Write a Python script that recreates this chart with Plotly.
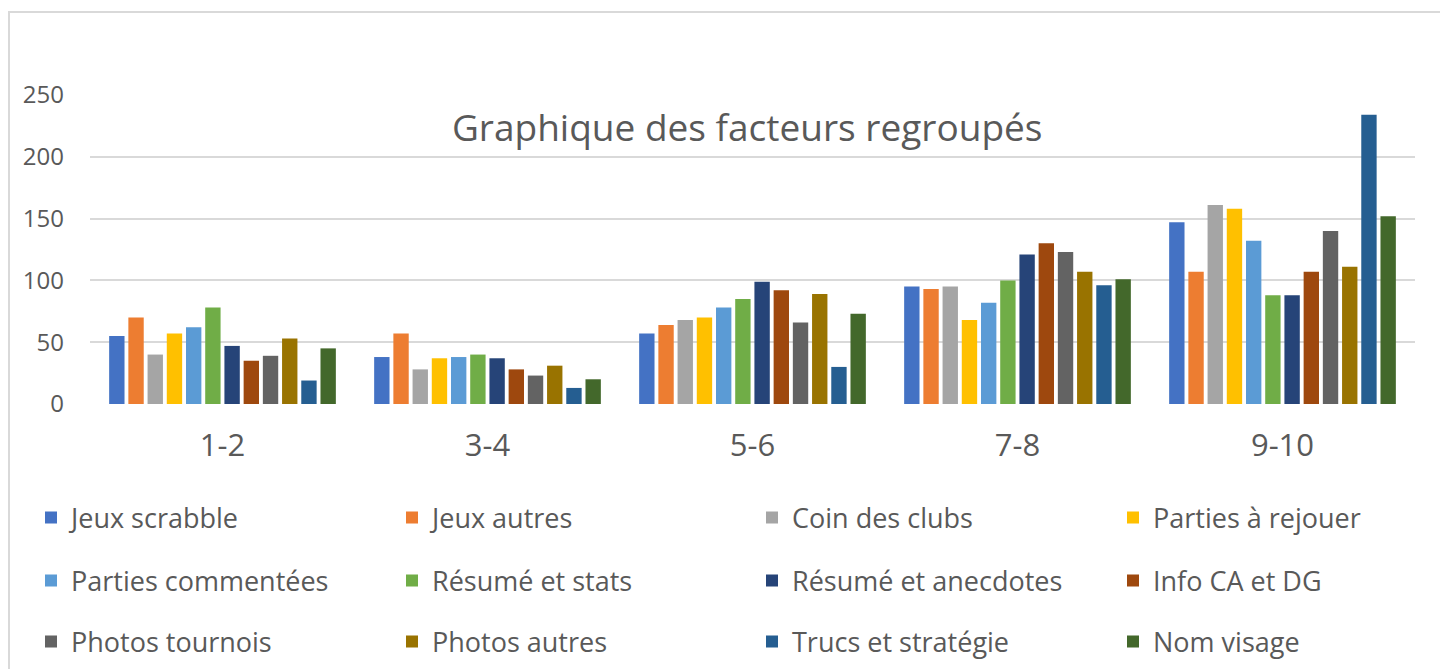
import plotly.graph_objects as go

categories = ["1-2", "3-4", "5-6", "7-8", "9-10"]

series_names = [
    "Jeux scrabble", "Jeux autres", "Coin des clubs", "Parties à rejouer",
    "Parties commentées", "Résumé et stats", "Résumé et anecdotes", "Info CA et DG",
    "Photos tournois", "Photos autres", "Trucs et stratégie", "Nom visage",
]

jeux_scrabble = [55, 38, 57, 95, 147]
jeux_autres = [70, 57, 64, 93, 107]
coin_des_clubs = [40, 28, 68, 95, 161]
parties_a_rejouer = [57, 37, 70, 68, 158]
parties_commentees = [62, 38, 78, 82, 132]
resume_et_stats = [78, 40, 85, 100, 88]
resume_et_anecdotes = [47, 37, 99, 121, 88]
info_ca_et_dg = [35, 28, 92, 130, 107]
photos_tournois = [39, 23, 66, 123, 140]
photos_autres = [53, 31, 89, 107, 111]
trucs_et_strategie = [19, 13, 30, 96, 234]
nom_visage = [45, 20, 73, 101, 152]

series_values = [
    jeux_scrabble, jeux_autres, coin_des_clubs, parties_a_rejouer,
    parties_commentees, resume_et_stats, resume_et_anecdotes, info_ca_et_dg,
    photos_tournois, photos_autres, trucs_et_strategie, nom_visage,
]

colors = [
    "#4472C4", "#ED7D31", "#A5A5A5", "#FFC000",
    "#5B9BD5", "#70AD47", "#264478", "#9E480E",
    "#636363", "#997300", "#255E91", "#43682B",
]

y_ticks = [0, 50, 100, 150, 200, 250]

FONT = "Open Sans"
TXT = "#595959"

# the page body adds an 8px offset, so the figure is drawn 8px smaller
OFF = 8
W, H = 1448 - OFF, 669 - OFF
plot_left, plot_right = 90 - OFF, 1415 - OFF
plot_top, plot_bottom = 95 - OFF, 404 - OFF
pw = plot_right - plot_left
ph = plot_bottom - plot_top


def px(pix):
    return (pix - OFF - plot_left) / pw


def py(pix):
    return (plot_bottom - (pix - OFF)) / ph


# legend grid (screen pixels): left edges of the 4 columns, centres of the 3 rows
legend_cols = [31, 392, 752, 1113]
legend_rows = [518, 581, 642]

fig = go.Figure()
layout_legends = {}
for i, (name, vals, col) in enumerate(zip(series_names, series_values, colors)):
    key = "legend" if i == 0 else f"legend{i + 1}"
    fig.add_trace(go.Bar(
        x=categories, y=vals, name=name,
        marker=dict(color=col, line=dict(width=0)),
        legend=key,
    ))
    layout_legends[key] = dict(
        orientation="h",
        x=px(legend_cols[i % 4]), xanchor="left",
        y=py(legend_rows[i // 4]), yanchor="middle",
        font=dict(family=FONT, size=27, color=TXT),
        bgcolor="rgba(0,0,0,0)", itemclick=False, itemdoubleclick=False,
    )

fig.update_layout(
    width=W, height=H,
    margin=dict(l=plot_left, r=W - plot_right, t=plot_top, b=H - plot_bottom,
                pad=0, autoexpand=False),
    paper_bgcolor="white", plot_bgcolor="white",
    barmode="group", bargap=0.13, bargroupgap=0.2,
    title=dict(
        text="Graphique des facteurs regroupés",
        font=dict(family=FONT, size=37, color=TXT),
        x=0.496, xref="paper", xanchor="center",
        y=1 - (128 - OFF) / H, yref="container", yanchor="middle",
    ),
    showlegend=True,
    xaxis=dict(
        showgrid=False, showline=False, zeroline=False, ticks="",
        tickfont=dict(family=FONT, size=31, color=TXT),
        ticklabelstandoff=20,
    ),
    yaxis=dict(
        range=[0, 250], tickvals=y_ticks, showgrid=True,
        gridcolor="#D9D9D9", gridwidth=1.5, zeroline=False, showline=False,
        ticks="", tickfont=dict(family=FONT, size=24, color=TXT),
        ticklabelstandoff=25,
    ),
    shapes=[dict(
        type="rect", xref="paper", yref="paper",
        x0=px(OFF + 1), x1=px(1446),
        y0=py(700), y1=py(12),
        line=dict(color="#D9D9D9", width=2), fillcolor="rgba(0,0,0,0)", layer="below",
    )],
    **layout_legends,
)

fig.write_html("out.html")
